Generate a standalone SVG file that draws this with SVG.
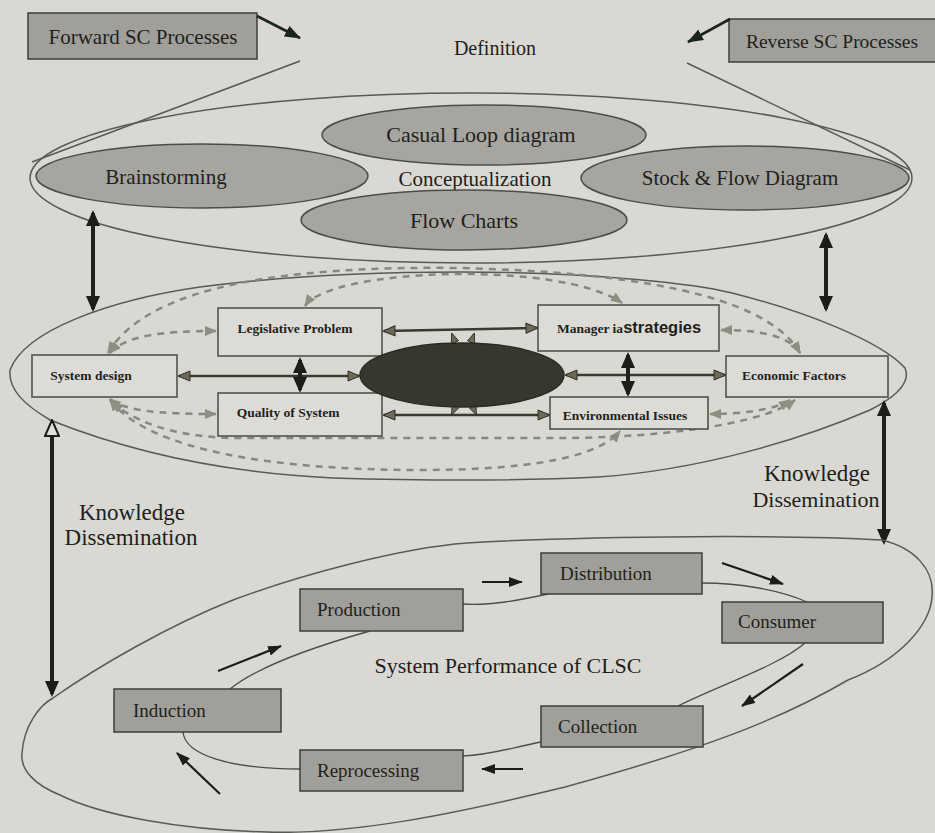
<svg xmlns="http://www.w3.org/2000/svg" width="935" height="833" viewBox="0 0 935 833">
<defs>
<style>
.bg{fill:#d9d8d2}
.t{font-family:"Liberation Serif","Times New Roman",serif;fill:#1f1f1c}
.tb{font-family:"Liberation Serif","Times New Roman",serif;font-weight:bold;fill:#1f1f1c;font-size:13.5px}
.outline{fill:none;stroke:#5a5a55;stroke-width:1.5}
.gell{fill:#a6a59f;stroke:#4d4d48;stroke-width:1.5}
.gbox{fill:#a09f99;stroke:#3e3e3a;stroke-width:1.5}
.mbox{fill:#dcdbd5;stroke:#4a4a45;stroke-width:1.5}
.thin{fill:none;stroke:#4d4d48;stroke-width:1.3}
.dash{fill:none;stroke:#888882;stroke-width:2.5;stroke-dasharray:7 6;marker-start:url(#hg);marker-end:url(#hg)}
.mid{fill:none;stroke:#3a3a32;stroke-width:2.5;marker-start:url(#hm);marker-end:url(#hm)}
.thick{fill:none;stroke:#1f1f1c;stroke-width:4}
.blk{fill:none;stroke:#1c1c1a;stroke-width:2.2;marker-end:url(#hb)}
.top{fill:none;stroke:#1c2420;stroke-width:2.6;marker-end:url(#hk)}
</style>
<marker id="hg" viewBox="0 0 12 10" refX="11" refY="5" markerWidth="12" markerHeight="10" markerUnits="userSpaceOnUse" orient="auto-start-reverse"><path d="M0,0 L12,5 L0,10 z" fill="#8e8f80"/></marker>
<marker id="hm" viewBox="-1 -1 14 12" refX="11" refY="5" markerWidth="14" markerHeight="12" markerUnits="userSpaceOnUse" orient="auto-start-reverse"><path d="M0,0 L12,5 L0,10 z" fill="#6b6b58" stroke="#2e2e28" stroke-width="1"/></marker>
<marker id="hb" viewBox="0 0 14 10" refX="13" refY="5" markerWidth="14" markerHeight="10" markerUnits="userSpaceOnUse" orient="auto"><path d="M0,0 L14,5 L0,10 z" fill="#1c1c1a"/></marker>
<marker id="hk" viewBox="0 0 16 12" refX="15" refY="6" markerWidth="16" markerHeight="12" markerUnits="userSpaceOnUse" orient="auto"><path d="M0,0 L16,6 L0,12 z" fill="#1c2420"/></marker>
<marker id="ht" viewBox="0 0 16 14" refX="13" refY="7" markerWidth="16" markerHeight="14" markerUnits="userSpaceOnUse" orient="auto-start-reverse"><path d="M0,0 L16,7 L0,14 z" fill="#1c1c1a"/></marker>
<marker id="hh" viewBox="-1 -1 18 16" refX="13" refY="7" markerWidth="18" markerHeight="16" markerUnits="userSpaceOnUse" orient="auto-start-reverse"><path d="M0,0 L16,7 L0,14 z" fill="#e2e1db" stroke="#1c1c1a" stroke-width="2"/></marker>
<marker id="hs" viewBox="0 0 10 8" refX="9" refY="4" markerWidth="10" markerHeight="8" markerUnits="userSpaceOnUse" orient="auto"><path d="M0,0 L10,4 L0,8 z" fill="#6b6b58" stroke="#2e2e28" stroke-width="0.8"/></marker>
</defs>
<rect class="bg" x="0" y="0" width="935" height="833"/>

<g id="definition">
  <line class="outline" x1="300" y1="61" x2="32" y2="162"/>
  <line class="outline" x1="687" y1="63" x2="910" y2="170"/>
  <text class="t" x="495" y="55" font-size="20" text-anchor="middle">Definition</text>
</g>

<g id="forward-sc">
  <rect class="gbox" x="28" y="13" width="229" height="46" fill="#aaa9a2"/>
  <text class="t" x="143" y="44" font-size="21" text-anchor="middle">Forward SC Processes</text>
</g>
<g id="reverse-sc">
  <rect class="gbox" x="729" y="19" width="210" height="43" fill="#aaa9a2"/>
  <text class="t" x="832" y="48" font-size="19.5" text-anchor="middle">Reverse SC Processes</text>
</g>

<g id="conceptualization">
  <ellipse class="outline" cx="471" cy="178" rx="441" ry="85"/>
  <text class="t" x="475" y="186" font-size="21" text-anchor="middle">Conceptualization</text>
</g>
<g id="brainstorming">
  <ellipse class="gell" cx="202" cy="176" rx="166" ry="32"/>
  <text class="t" x="166" y="184" font-size="21" text-anchor="middle">Brainstorming</text>
</g>
<g id="casual-loop">
  <ellipse class="gell" cx="484" cy="135" rx="162" ry="30"/>
  <text class="t" x="481" y="142" font-size="22" text-anchor="middle">Casual Loop diagram</text>
</g>
<g id="stock-flow">
  <ellipse class="gell" cx="745" cy="178" rx="164" ry="32"/>
  <text class="t" x="740" y="185" font-size="21" text-anchor="middle">Stock &amp; Flow Diagram</text>
</g>
<g id="flow-charts">
  <ellipse class="gell" cx="464" cy="220" rx="163" ry="30"/>
  <text class="t" x="464" y="228" font-size="22" text-anchor="middle">Flow Charts</text>
</g>

<g id="modeling">
  <path class="outline" d="M10,370 C25,330 110,300 200,287 C300,274 400,272 460,272 C600,272 700,285 732,293 C800,310 880,340 905,368 C912,385 890,400 870,410 C800,440 700,470 598,477 C500,482 400,480 333,478 C250,474 150,460 50,420 C25,405 8,390 10,370 Z"/>
</g>

<g id="connectors">
  <line class="top" x1="257" y1="16" x2="300" y2="38"/>
  <line class="top" x1="730" y1="19" x2="688" y2="42"/>
  <line class="thick" x1="93" y1="213" x2="93" y2="309" marker-start="url(#ht)" marker-end="url(#ht)"/>
  <line class="thick" x1="826" y1="235" x2="826" y2="309" marker-start="url(#ht)" marker-end="url(#ht)"/>
  <line class="thick" x1="52" y1="423" x2="52" y2="694" marker-start="url(#hh)" marker-end="url(#ht)"/>
  <line class="thick" x1="884" y1="403" x2="884" y2="542" marker-start="url(#ht)" marker-end="url(#ht)"/>

  <path class="dash" d="M110,353 C125,336 160,331 216,331"/>
  <path class="dash" d="M108,353 C150,282 300,266 460,268 C620,272 765,292 800,353"/>
  <path class="dash" d="M305,306 C330,268 560,260 622,303"/>
  <path class="dash" d="M721,330 C760,330 790,336 800,353"/>
  <path class="dash" d="M110,399 C125,411 160,414 216,414"/>
  <path class="dash" d="M110,400 C150,452 280,470 420,470 C540,470 600,455 620,431"/>
  <path class="dash" d="M112,402 C140,426 180,436 230,438 L560,438 C650,438 760,426 795,400"/>
  <path class="dash" d="M790,400 C775,410 740,414 710,414"/>

  <line class="mid" x1="179" y1="376" x2="359" y2="376"/>
  <line class="mid" x1="566" y1="375" x2="725" y2="375"/>
  <line class="mid" x1="384" y1="331" x2="537" y2="328"/>
  <line class="mid" x1="384" y1="415" x2="549" y2="415"/>
  <line class="thick" x1="300" y1="360" x2="300" y2="390" stroke-width="3" marker-start="url(#ht)" marker-end="url(#ht)"/>
  <line class="thick" x1="628" y1="355" x2="628" y2="394" stroke-width="3" marker-start="url(#ht)" marker-end="url(#ht)"/>
  <line stroke="#3a3a32" stroke-width="2" x1="456" y1="345" x2="452" y2="334" marker-end="url(#hs)"/>
  <line stroke="#3a3a32" stroke-width="2" x1="470" y1="345" x2="474" y2="334" marker-end="url(#hs)"/>
  <line stroke="#3a3a32" stroke-width="2" x1="456" y1="405" x2="452" y2="414" marker-end="url(#hs)"/>
  <line stroke="#3a3a32" stroke-width="2" x1="472" y1="405" x2="476" y2="414" marker-end="url(#hs)"/>

  <path class="thin" d="M230,689 C260,665 320,645 370,631"/>
  <path class="thin" d="M463,604 C490,606 520,600 548,594"/>
  <path class="thin" d="M702,583 C740,583 780,590 807,602"/>
  <path class="thin" d="M805,643 C780,665 720,685 678,706"/>
  <path class="thin" d="M541,742 C510,748 490,755 463,756"/>
  <path class="thin" d="M300,769 C230,769 185,755 183,732"/>

  <line class="blk" x1="218" y1="671" x2="281" y2="646"/>
  <line class="blk" x1="482" y1="582" x2="522" y2="582"/>
  <line class="blk" x1="722" y1="563" x2="783" y2="584"/>
  <line class="blk" x1="803" y1="664" x2="742" y2="706"/>
  <line class="blk" x1="523" y1="769" x2="482" y2="769"/>
  <line class="blk" x1="220" y1="794" x2="177" y2="753"/>
</g>

<g id="legislative-problem">
  <rect class="mbox" x="218" y="308" width="164" height="48"/>
  <text class="tb" x="295" y="333" text-anchor="middle">Legislative Problem</text>
</g>
<g id="system-design">
  <rect class="mbox" x="32" y="355" width="145" height="42"/>
  <text class="tb" x="91" y="380" text-anchor="middle">System design</text>
</g>
<g id="quality-of-system">
  <rect class="mbox" x="218" y="393" width="164" height="43"/>
  <text class="tb" x="288" y="417" text-anchor="middle">Quality of System</text>
</g>
<g id="manager-strategies">
  <rect class="mbox" x="538" y="305" width="181" height="46"/>
  <text class="tb" x="557" y="333" font-size="12.5">Manager ia<tspan font-family="Liberation Sans, Arial, sans-serif" font-size="16.5">strategies</tspan></text>
</g>
<g id="economic-factors">
  <rect class="mbox" x="726" y="356" width="162" height="41"/>
  <text class="tb" x="794" y="380" text-anchor="middle">Economic Factors</text>
</g>
<g id="environmental-issues">
  <rect class="mbox" x="550" y="397" width="158" height="32"/>
  <text class="tb" x="625" y="420" font-size="12.5" text-anchor="middle">Environmental Issues</text>
</g>
<g id="center">
  <ellipse cx="462" cy="375" rx="102" ry="32" fill="#37372f" stroke="#2a2a24" stroke-width="1.5"/>
</g>

<g id="knowledge-left">
  <text class="t" x="132" y="520" font-size="23" text-anchor="middle">Knowledge</text>
  <text class="t" x="131" y="545" font-size="23" text-anchor="middle">Dissemination</text>
</g>
<g id="knowledge-right">
  <text class="t" x="817" y="481" font-size="23" text-anchor="middle">Knowledge</text>
  <text class="t" x="816" y="507" font-size="22" text-anchor="middle">Dissemination</text>
</g>

<g id="system-performance">
  <path class="outline" d="M22,753 C24,725 40,705 53,698 C100,665 170,625 233,600 C300,575 400,548 467,543 C600,535 800,535 882,540 C915,548 935,570 932,597 C930,625 900,660 848,680 C780,720 700,750 565,787 C450,815 350,835 267,832 C180,830 100,815 60,795 C35,785 20,770 22,753 Z"/>
  <text class="t" x="508" y="673" font-size="22" text-anchor="middle">System Performance of CLSC</text>
</g>
<g id="production">
  <rect class="gbox" x="300" y="589" width="163" height="42"/>
  <text class="t" x="317" y="616" font-size="19">Production</text>
</g>
<g id="distribution">
  <rect class="gbox" x="541" y="553" width="161" height="41"/>
  <text class="t" x="560" y="580" font-size="19">Distribution</text>
</g>
<g id="consumer">
  <rect class="gbox" x="722" y="602" width="161" height="41"/>
  <text class="t" x="738" y="628" font-size="19">Consumer</text>
</g>
<g id="collection">
  <rect class="gbox" x="541" y="706" width="162" height="41" fill="#999892"/>
  <text class="t" x="558" y="733" font-size="19">Collection</text>
</g>
<g id="reprocessing">
  <rect class="gbox" x="300" y="750" width="163" height="41" fill="#979690"/>
  <text class="t" x="317" y="777" font-size="19">Reprocessing</text>
</g>
<g id="induction">
  <rect class="gbox" x="114" y="689" width="167" height="43" fill="#8f8e88"/>
  <text class="t" x="133" y="717" font-size="19">Induction</text>
</g>
</svg>
